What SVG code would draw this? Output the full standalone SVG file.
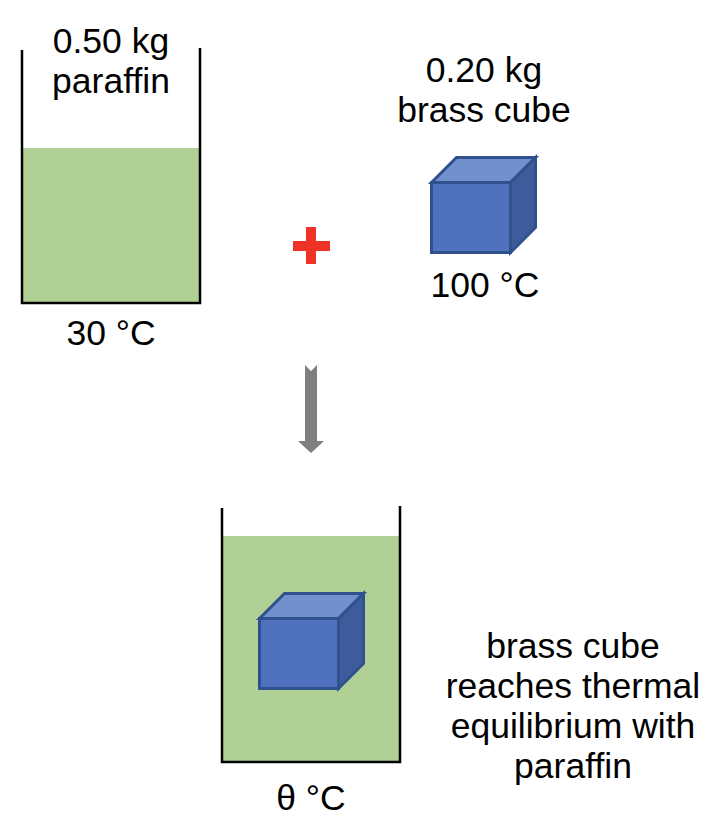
<svg xmlns="http://www.w3.org/2000/svg" width="724" height="830" viewBox="0 0 724 830">
<style>
text{font-family:"Liberation Sans",Arial,sans-serif;font-size:35.5px;fill:#000;text-anchor:middle}
.wall{fill:none;stroke:#000;stroke-width:2.5}
.liq{fill:#B0D096}
.front{fill:#5071BE}
.top{fill:#7290CC}
.side{fill:#3E5C9B}
.edge{stroke:#2F528F;stroke-width:3;stroke-linejoin:miter}
</style>
<defs>
<g id="cube">
<polygon class="top edge" points="431.5,182.5 456.5,157.5 535.5,157.5 510.5,182.5"/>
<polygon class="side edge" points="510.5,182.5 535.5,157.5 535.5,227.5 510.5,252.5"/>
<rect class="front edge" x="431.5" y="182.5" width="79" height="70"/>
</g>
</defs>
<rect width="724" height="830" fill="#fff"/>
<g id="paraffin-beaker">
<rect class="liq" x="22" y="148" width="178" height="155"/>
<path class="wall" d="M22,50 V303 H200 V48"/>
<text x="111" y="53">0.50 kg</text>
<text x="111" y="93">paraffin</text>
<text x="111" y="345">30 °C</text>
</g>
<g id="plus">
<rect x="293" y="241" width="37" height="10" fill="#EE3326"/>
<rect x="306" y="227" width="10" height="37" fill="#EE3326"/>
</g>
<g id="brass-cube">
<use href="#cube"/>
<text x="484" y="82">0.20 kg</text>
<text x="484" y="122">brass cube</text>
<text x="485" y="297">100 °C</text>
</g>
<g id="connectors">
<polygon points="305,365 311,371 317,365 317,441 324,441 311,453 298,441 305,441" fill="#7F7F7F"/>
</g>
<g id="equilibrium-beaker">
<rect class="liq" x="222" y="536" width="178" height="226"/>
<path class="wall" d="M222,508 V762 H400 V506"/>
<use href="#cube" transform="translate(-172,436)"/>
<text x="311" y="810">θ °C</text>
</g>
<g id="caption">
<text x="573" y="658">brass cube</text>
<text x="573" y="698">reaches thermal</text>
<text x="573" y="738">equilibrium with</text>
<text x="573" y="778">paraffin</text>
</g>
</svg>
